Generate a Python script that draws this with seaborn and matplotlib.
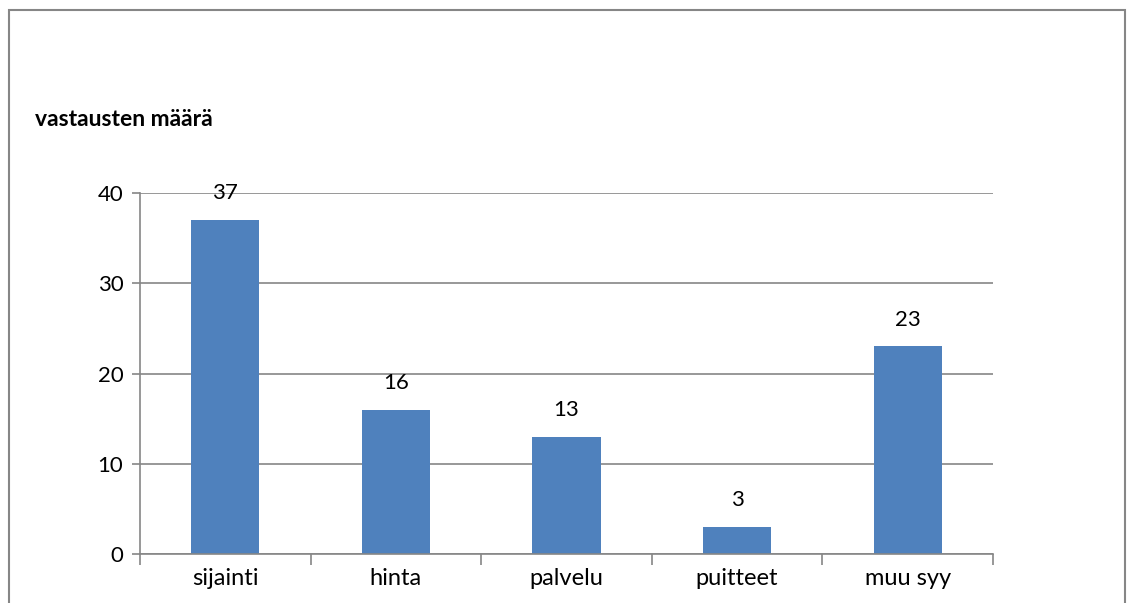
import seaborn as sns
import pandas as pd
import matplotlib.pyplot as plt
from matplotlib.patches import Rectangle

# data
syyt = ["sijainti", "hinta", "palvelu", "puitteet", "muu syy"]
maarat = [37, 16, 13, 3, 23]

df = pd.DataFrame({"syy": syyt, "maara": maarat})

sns.set_style("white")
plt.rcParams["font.family"] = ["Lato", "DejaVu Sans"]
plt.rcParams["text.color"] = "black"
plt.rcParams["xtick.color"] = "black"
plt.rcParams["ytick.color"] = "black"

fig = plt.figure(figsize=(11.3, 6.03), dpi=100)
W, H = 1130, 603
ax = fig.add_axes([140 / W, 1 - 554 / H, (993 - 140) / W, (554 - 193) / H])

sns.barplot(data=df, x="syy", y="maara", color="#4F81BD", saturation=1,
            width=0.4, linewidth=0, ax=ax)

ax.set_ylim(0, 40)
ax.set_xlim(-0.5, 4.5)
ax.set_yticks([0, 10, 20, 30, 40])
ax.yaxis.grid(True, color="#868686", linewidth=1.2)
ax.set_axisbelow(True)
ax.set_xlabel("")
ax.set_ylabel("")

for s in ["top", "right"]:
    ax.spines[s].set_visible(False)
for s in ["left", "bottom"]:
    ax.spines[s].set_color("#868686")
    ax.spines[s].set_linewidth(1.2)

# ticks: y outward, x at category boundaries
ax.tick_params(axis="y", length=6, color="#868686", labelcolor="black", width=1.2,
               labelsize=16, pad=6, left=True)
ax.set_xticks([i - 0.5 for i in range(6)], minor=True)
ax.tick_params(axis="x", which="minor", length=8, color="#868686", width=1.2, bottom=True)
ax.tick_params(axis="x", which="major", length=0, labelcolor="black", labelsize=17, pad=10)

ax.bar_label(ax.containers[0], fontsize=16, padding=12, color="black")

fig.text(35 / W, 1 - 120 / H, "vastausten määrä", fontsize=16.5, fontweight="bold",
         va="center", ha="left", color="black")

# outer chart border
fig.patches.append(Rectangle((9 / W, -0.05), (1125 - 9) / W, 1.05 - 10 / H,
                             transform=fig.transFigure, fill=False,
                             edgecolor="#868686", linewidth=1.5))

fig.savefig("out.png", dpi=100)
